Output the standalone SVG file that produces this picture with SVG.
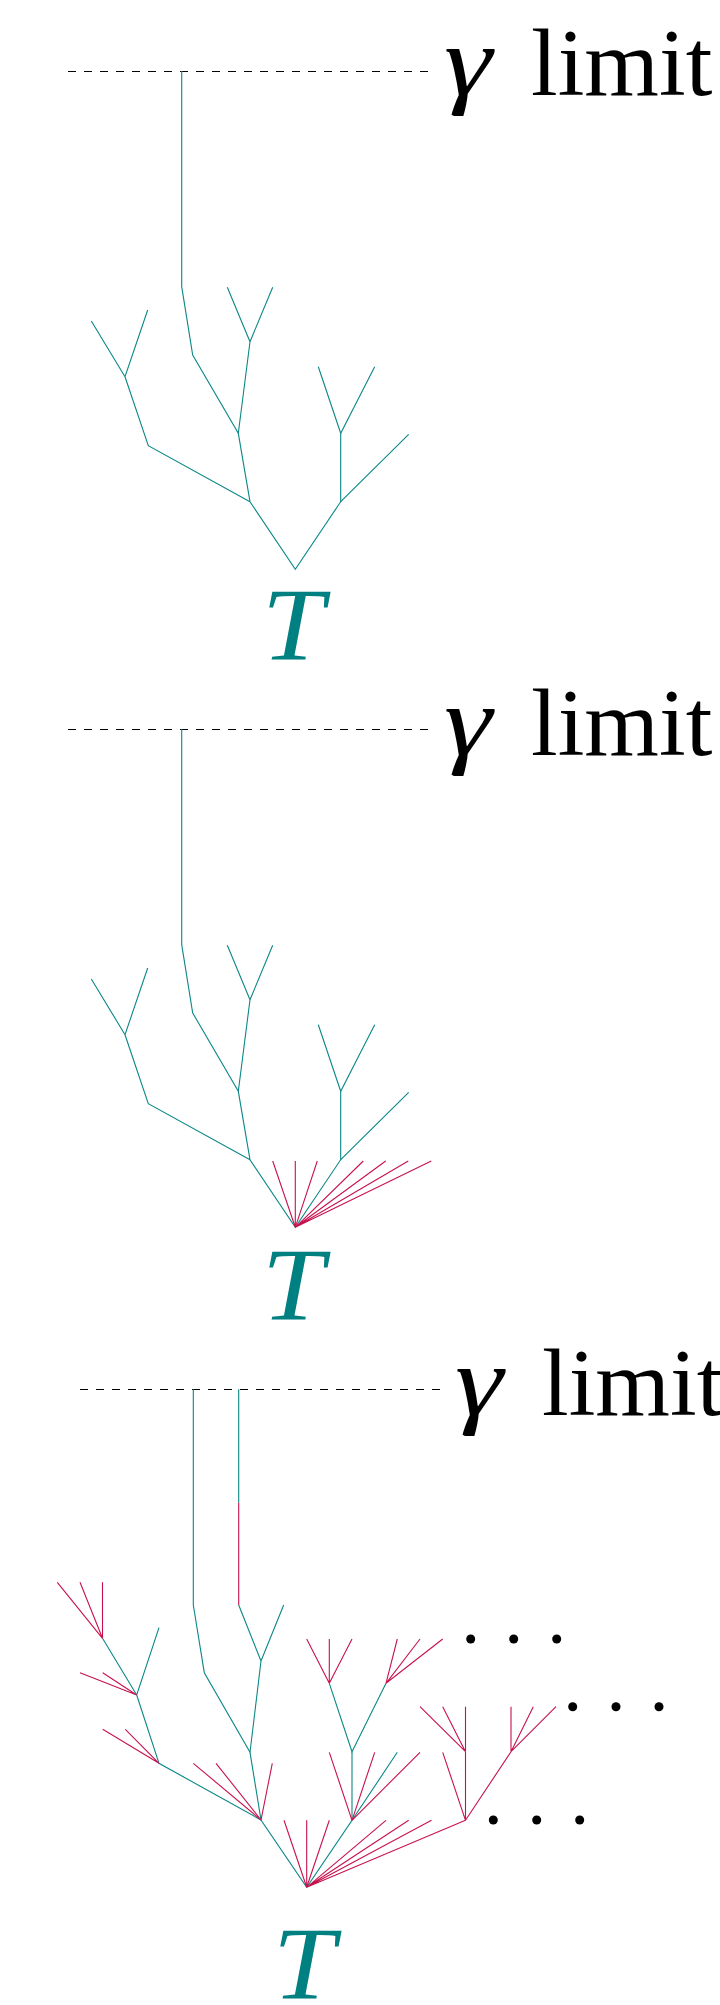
<svg xmlns="http://www.w3.org/2000/svg" width="720" height="2005" viewBox="0 0 720 2005">
<style>
.tl{fill:none;stroke:#0b8787;stroke-width:1.1;stroke-linejoin:miter;stroke-linecap:butt}
.rd{fill:none;stroke:#c8124e;stroke-width:1.1}
.dash{fill:none;stroke:#000;stroke-width:1.2;stroke-dasharray:8 8}
.lim{font-family:"Liberation Serif","DejaVu Serif",serif;font-size:96px;fill:#000}
.gam{font-family:"Liberation Serif","DejaVu Serif",serif;font-style:italic;font-size:100px;fill:#000}
.T{font-family:"Liberation Serif","DejaVu Serif",serif;font-style:italic;font-size:104px;fill:#008080}
.dot{fill:#000}
</style>
<defs>
<g id="teal-tree">
<path class="tl" d="M181.7,71 V286.7 L192.7,355 L238.3,433.3 L250,501.7 L295.3,569.3 L340.7,501.7 L340.7,433.3"/>
<path class="tl" d="M227.3,287.3 L250,341.7 L272.7,287.3 M250,341.7 L238.3,433.3"/>
<path class="tl" d="M91.3,321 L125,376.7 L147.7,310 M125,376.7 L148.3,445.7 L250,501.7"/>
<path class="tl" d="M318.3,366.7 L340.7,433.3 L374.7,366.7 M340.7,501.7 L408.7,434.3"/>
</g>
</defs>

<!-- Panel 1 -->
<g id="limit1">
<line class="dash" x1="68" y1="71.5" x2="428" y2="71.5"/>
<text class="gam" x="444" y="95" textLength="48" lengthAdjust="spacingAndGlyphs">γ</text>
<text class="lim" x="531" y="95">limit</text>
</g>
<g id="tree1">
<use href="#teal-tree"/>
</g>
<g id="label1"><text class="T" x="293" y="660" text-anchor="middle" textLength="62" lengthAdjust="spacingAndGlyphs">T</text></g>

<!-- Panel 2 -->
<g id="limit2">
<line class="dash" x1="68" y1="729.5" x2="428" y2="729.5"/>
<text class="gam" x="444" y="755" textLength="48" lengthAdjust="spacingAndGlyphs">γ</text>
<text class="lim" x="531" y="755">limit</text>
</g>
<g id="tree2" transform="translate(0,658)">
<use href="#teal-tree"/>
<path class="rd" d="M295.3,569.3 L272.7,503 M295.3,569.3 L295.3,503 M295.3,569.3 L317.3,503 M295.3,569.3 L363.3,503 M295.3,569.3 L385.7,503 M295.3,569.3 L408.3,503 M295.3,569.3 L431.3,503"/>
</g>
<g id="label2"><text class="T" x="293" y="1320" text-anchor="middle" textLength="62" lengthAdjust="spacingAndGlyphs">T</text></g>

<!-- Panel 3 -->
<g id="limit3">
<line class="dash" x1="80" y1="1389.5" x2="440" y2="1389.5"/>
<text class="gam" x="455" y="1415" textLength="48" lengthAdjust="spacingAndGlyphs">γ</text>
<text class="lim" x="542" y="1415">limit</text>
</g>
<g id="tree3">
<g id="connectors3-teal">
<path class="tl" d="M193.3,1389.3 V1605 L204.3,1672.7 L250,1752.3 L261,1820 L306.7,1887.3 L352,1820.3 L352,1751.7"/>
<path class="tl" d="M238.7,1389.3 V1502.7"/>
<path class="tl" d="M238.7,1605 L261,1661 L283.7,1605 M261,1661 L250,1752.3"/>
<path class="tl" d="M102.5,1638.3 L136.7,1695 L159,1627.7 M136.7,1695 L159,1763.3 L261,1820"/>
<path class="tl" d="M329.3,1683.3 L352,1751.7 L386,1683.3 M352,1820.3 L397.3,1752.3"/>
</g>
<g id="connectors3-red">
<path class="rd" d="M238.7,1502.7 V1605"/>
<path class="rd" d="M102.5,1638.3 L57.3,1582.3 M102.5,1638.3 L80,1582.3 M102.5,1638.3 L102.5,1582.3"/>
<path class="rd" d="M136.7,1695 L80,1672.7 M136.7,1695 L102.7,1672.7"/>
<path class="rd" d="M159,1763.3 L102.7,1729.3 M159,1763.3 L125.3,1729.3"/>
<path class="rd" d="M261,1820 L193.3,1763.3 M261,1820 L216,1763.3 M261,1820 L272.3,1763.3"/>
<path class="rd" d="M306.7,1887.3 L284,1820.3 M306.7,1887.3 L306.7,1820.3 M306.7,1887.3 L329.3,1820.3 M306.7,1887.3 L386,1820.3 M306.7,1887.3 L408.7,1820.3 M306.7,1887.3 L431.5,1820.3 M306.7,1887.3 L465.5,1820.3"/>
<path class="rd" d="M352,1820.3 L329.3,1752.3 M352,1820.3 L374.7,1752.3 M352,1820.3 L420,1752.3"/>
<path class="rd" d="M329.3,1683.3 L306.7,1639 M329.3,1683.3 L329.3,1639 M329.3,1683.3 L352,1639"/>
<path class="rd" d="M386,1683.3 L397.3,1639 M386,1683.3 L420,1639 M386,1683.3 L442.7,1639"/>
<path class="rd" d="M465.5,1820.3 L465.5,1751.7 M465.5,1820.3 L442.7,1752.3 M465.5,1820.3 L511,1751.7"/>
<path class="rd" d="M465.5,1751.7 L420,1706.7 M465.5,1751.7 L442.7,1706.7 M465.5,1751.7 L465.5,1706.7"/>
<path class="rd" d="M511,1751.7 L511,1706.7 M511,1751.7 L533.3,1706.7 M511,1751.7 L556,1706.7"/>
</g>
<g id="dots3">
<circle class="dot" cx="470.7" cy="1639" r="4.5"/>
<circle class="dot" cx="513.7" cy="1639" r="4.5"/>
<circle class="dot" cx="556.7" cy="1639" r="4.5"/>
<circle class="dot" cx="572.7" cy="1706.7" r="4.5"/>
<circle class="dot" cx="616" cy="1706.7" r="4.5"/>
<circle class="dot" cx="659" cy="1706.7" r="4.5"/>
<circle class="dot" cx="493.3" cy="1820" r="4.5"/>
<circle class="dot" cx="536.7" cy="1820" r="4.5"/>
<circle class="dot" cx="579.7" cy="1820" r="4.5"/>
</g>
</g>
<g id="label3"><text class="T" x="304" y="1999" text-anchor="middle" textLength="62" lengthAdjust="spacingAndGlyphs">T</text></g>
</svg>
